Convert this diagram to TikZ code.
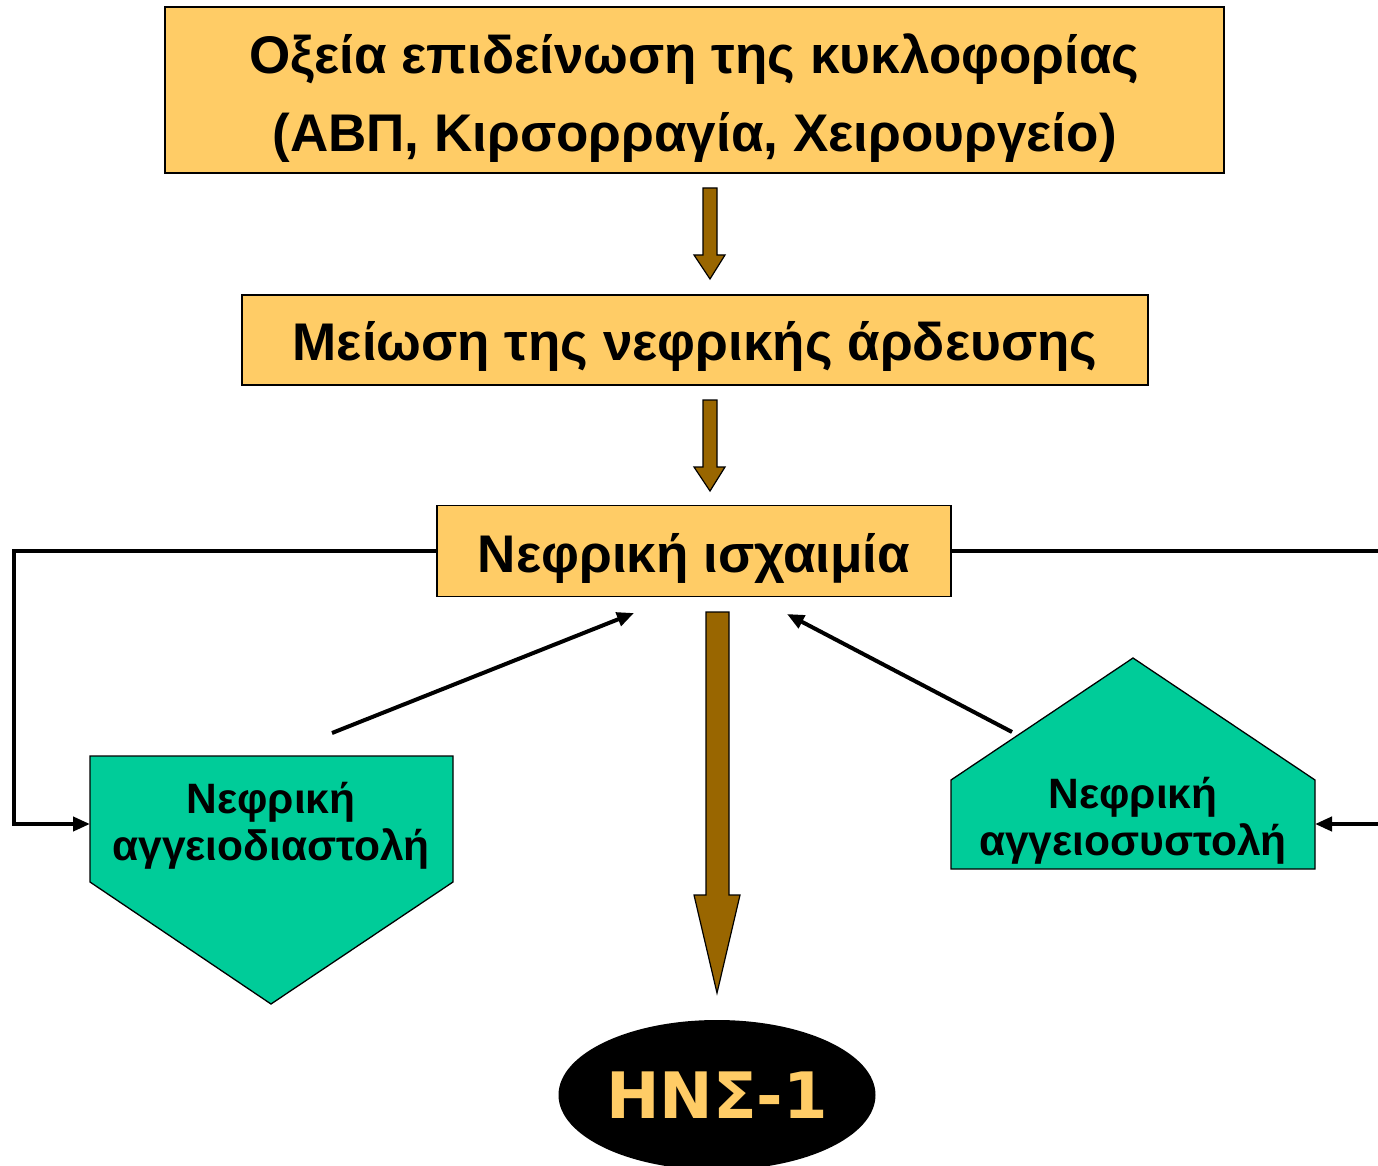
\documentclass[tikz,border=0pt]{standalone}
\usepackage{fontspec}
\setmainfont{Liberation Sans}
\newfontfamily\verdfont{DejaVu Sans}
\usetikzlibrary{arrows.meta,shapes.geometric}
\definecolor{boxfill}{HTML}{FFCC66}
\definecolor{arrbrown}{HTML}{996600}
\definecolor{greenfill}{HTML}{00CC99}
\begin{document}
\begin{tikzpicture}[x=1pt,y=-1pt,
  ybox/.style={draw=black, line width=1.3pt, fill=boxfill, inner sep=0pt},
  btext/.style={anchor=base, inner sep=0pt, font=\bfseries\fontsize{53}{60}\selectfont},
  gtext/.style={anchor=base, inner sep=0pt, font=\bfseries\fontsize{42.5}{48}\selectfont},
  gshape/.style={draw=black, line width=1.3pt, fill=greenfill},
  blockarr/.style={draw=black, line width=1.2pt, fill=arrbrown, line join=miter},
  thinarr/.style={line width=4pt, -{Triangle[length=17pt,width=14pt]}},
  feed/.style={line width=4pt}
]
\useasboundingbox (0,0) rectangle (1378,1166);
\clip (0,0) rectangle (1378,1166);

% boxes
\node[ybox, minimum width=1059pt, minimum height=166pt] (b1) at (694.5,90) {};
\node[btext] (t1a) at (694.5,74) {Οξεία επιδείνωση της κυκλοφορίας};
\node[btext] (t1b) at (694.5,152) {(ΑΒΠ, Κιρσορραγία, Χειρουργείο)};
\node[ybox, minimum width=906pt, minimum height=90pt] (b2) at (695,340) {};
\node[btext] (t2) at (695,360) {Μείωση της νεφρικής άρδευσης};
\node[ybox, minimum width=514pt, minimum height=91pt] (b3) at (694,551) {};
\node[btext] (t3) at (694,572) {Νεφρική ισχαιμία};

% block arrows
\draw[blockarr] (703,188) -- (717,188) -- (717,255) -- (725,255) -- (710,279) -- (694,255) -- (703,255) -- cycle;
\draw[blockarr] (703,400) -- (717,400) -- (717,467) -- (725,467) -- (710,491) -- (694,467) -- (703,467) -- cycle;
\draw[blockarr] (706,612) -- (729,612) -- (729,895) -- (740,895) -- (717,993) -- (694,895) -- (706,895) -- cycle;

% left pentagon (pointing down)
\draw[gshape] (90,756) -- (453,756) -- (453,882) -- (271,1004) -- (90,882) -- cycle;
\node[gtext] (ldila) at (271,813) {Νεφρική};
\node[gtext] (ldilb) at (271,860) {αγγειοδιαστολή};
\coordinate (lin) at (90,824);
\coordinate (lout) at (332,733);

% right pentagon (house)
\draw[gshape] (951,869) -- (951,780) -- (1133,658) -- (1315,780) -- (1315,869) -- cycle;
\node[gtext] (rcona) at (1133,808) {Νεφρική};
\node[gtext] (rconb) at (1133,855) {αγγειοσυστολή};
\coordinate (rin) at (1315,824);
\coordinate (rout) at (1012,732);

% thin arrows to ischemia
\coordinate (lend) at (634,613);
\coordinate (rend) at (787,614);
\draw[thinarr] (lout) -- (lend);
\draw[thinarr] (rout) -- (rend);

% feedback lines
\coordinate (lcorner) at (14,824);
\coordinate (redge) at (1392,551);
\coordinate (redge2) at (1392,824);
\draw[feed, line join=miter] (b3.west) -| (lcorner) -- (80,824);
\draw[thinarr] (75,824) -- (lin);
\draw[feed] (b3.east) -- (redge);
\draw[thinarr] (redge2) -- (rin);

% outcome
\node[ellipse, fill=black, minimum width=317pt, minimum height=150pt, inner sep=0pt,
  text=boxfill, font=\verdfont\bfseries\fontsize{64}{64}\selectfont] (hns) at (717,1095) {ΗΝΣ-1};
\end{tikzpicture}
\end{document}
